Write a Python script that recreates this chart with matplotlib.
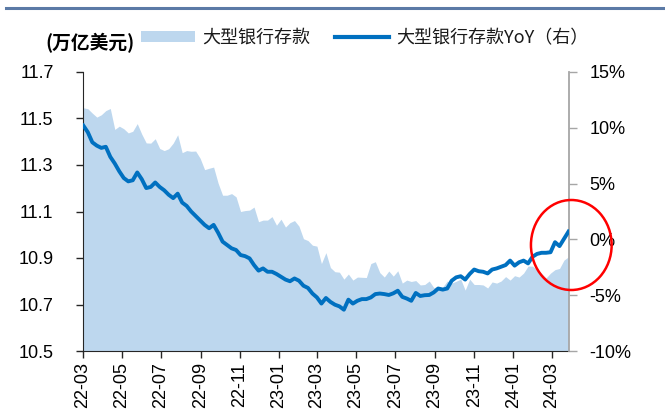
import matplotlib
matplotlib.use("Agg")
import matplotlib.pyplot as plt
import matplotlib.dates as mdates
from matplotlib.patches import Patch, Ellipse
from matplotlib.lines import Line2D
import pandas as pd

plt.rcParams['font.family'] = ['Liberation Sans', 'Noto Sans CJK SC', 'DejaVu Sans']

# weekly observations (Wednesdays), Mar 2022 - Mar 2024
dates = pd.date_range('2022-03-02', periods=109, freq='7D')

# Large bank deposits (trillion USD, left axis)
deposits = [
    11.546, 11.542, 11.523, 11.506, 11.516, 11.534, 11.543, 11.453, 11.467, 11.456,
    11.438, 11.445, 11.478, 11.433, 11.395, 11.394, 11.413, 11.371, 11.362, 11.370,
    11.394, 11.430, 11.353, 11.362, 11.359, 11.360, 11.329, 11.280, 11.286, 11.291,
    11.222, 11.170, 11.170, 11.177, 11.163, 11.100, 11.104, 11.106, 11.119, 11.056,
    11.063, 11.063, 11.078, 11.041, 11.067, 11.033, 11.052, 11.061, 11.037, 10.983,
    10.975, 10.955, 10.951, 10.876, 10.923, 10.859, 10.841, 10.839, 10.809, 10.831,
    10.805, 10.818, 10.817, 10.816, 10.876, 10.884, 10.837, 10.818, 10.844, 10.822,
    10.845, 10.792, 10.805, 10.799, 10.803, 10.784, 10.786, 10.801, 10.773, 10.777,
    10.775, 10.801, 10.792, 10.800, 10.809, 10.762, 10.809, 10.786, 10.786, 10.784,
    10.771, 10.797, 10.792, 10.801, 10.820, 10.805, 10.824, 10.818, 10.835, 10.865,
    10.865, 10.848, 10.834, 10.814, 10.835, 10.850, 10.855, 10.891, 10.905,
]

# Large bank deposits YoY (%, right axis)
yoy = [
    10.2, 9.6, 8.7, 8.4, 8.2, 8.3, 7.4, 6.8, 6.1, 5.5,
    5.2, 5.3, 6.0, 5.4, 4.6, 4.7, 5.1, 4.7, 4.4, 4.0,
    3.7, 4.1, 3.3, 3.0, 2.5, 2.1, 1.7, 1.3, 1.0, 1.3,
    0.6, -0.2, -0.5, -0.8, -0.95, -1.4, -1.5, -1.7, -2.3, -2.8,
    -2.6, -2.9, -2.9, -3.1, -3.35, -3.6, -3.75, -3.5, -3.7, -4.15,
    -4.35, -4.85, -5.2, -5.75, -5.25, -5.6, -5.85, -6.0, -6.3, -5.4,
    -5.75, -5.5, -5.35, -5.35, -5.2, -4.9, -4.85, -4.9, -4.98, -4.83,
    -4.6, -5.15, -5.3, -5.5, -4.8, -5.07, -5.0, -4.98, -4.75, -4.4,
    -4.5, -4.4, -3.7, -3.4, -3.3, -3.6, -3.1, -2.7, -2.85, -2.9,
    -3.05, -2.7, -2.6, -2.45, -2.3, -1.9, -2.35, -2.05, -1.9, -2.15,
    -1.55, -1.3, -1.2, -1.2, -1.15, -0.25, -0.6, 0.05, 0.7,
]

left_ticks = [10.5, 10.7, 10.9, 11.1, 11.3, 11.5, 11.7]
right_ticks = [-10, -5, 0, 5, 10, 15]
unit_label = '(万亿美元)'
area_label = '大型银行存款'
line_label = '大型银行存款YoY（右）'

FILL = '#BDD7EE'
LINE = '#0070C0'
W, H = 665, 418

fig = plt.figure(figsize=(W / 100, H / 100), dpi=100)
ax = fig.add_axes([82.7 / W, 1 - 351 / H, (568.5 - 82.7) / W, (351 - 72) / H])
ax2 = ax.twinx()

ax.fill_between(dates, left_ticks[0], deposits, color=FILL, linewidth=0, zorder=1)
ax2.plot(dates, yoy, color=LINE, linewidth=2.8, solid_joinstyle='round', zorder=3)

ax.set_ylim(left_ticks[0], left_ticks[-1])
ax.set_yticks(left_ticks)
ax.set_yticklabels([f'{v:.1f}' for v in left_ticks])
ax2.set_ylim(right_ticks[0], right_ticks[-1])
ax2.set_yticks(right_ticks)
ax2.set_yticklabels([f'{v}%' for v in right_ticks])

ax.set_xlim(dates[0] - pd.Timedelta(days=1), dates[-1])
ax.xaxis.set_major_locator(mdates.MonthLocator(bymonth=[1, 3, 5, 7, 9, 11]))
ax.xaxis.set_major_formatter(mdates.DateFormatter('%y-%m'))
for lab in ax.get_xticklabels():
    lab.set_rotation(90)

for a in (ax, ax2):
    a.spines['top'].set_visible(False)
    a.set_facecolor('none')
ax.spines['right'].set_visible(False)
ax2.spines['left'].set_visible(False)
ax2.spines['bottom'].set_visible(False)
ax.spines['left'].set_color('#262626')
ax.spines['bottom'].set_color('#262626')
ax2.spines['right'].set_color('#A6A6A6')
ax2.spines['right'].set_linewidth(1.3)

ax.tick_params(axis='y', direction='out', length=5, width=1, color='#262626',
               labelsize=13, pad=16)
ax.tick_params(axis='x', direction='out', length=5, width=1, color='#262626',
               labelsize=13, pad=3)
ax2.tick_params(axis='y', direction='out', length=6, width=1, color='#A6A6A6',
                labelsize=13, pad=9)

# legend
handles = [Patch(facecolor=FILL, edgecolor='none', label=area_label),
           Line2D([], [], color=LINE, linewidth=3, label=line_label)]
leg = fig.legend(handles=handles, loc='center left', bbox_to_anchor=(141 / W, 1 - 38 / H),
                 ncol=2, frameon=False, borderpad=0, borderaxespad=0,
                 handlelength=3.0, handleheight=0.6, handletextpad=0.4, columnspacing=1.35,
                 prop={'family': ['Noto Sans CJK SC', 'DejaVu Sans'], 'size': 13})
for t in leg.get_texts():
    t.set_color('#1a1a1a')

fig.text(45 / W, 1 - 43 / H, unit_label, ha='left', va='center', fontsize=13.5,
         fontweight='bold', family=['Noto Sans CJK SC', 'DejaVu Sans'])

# header rule
fig.add_artist(Line2D([6 / W, 1], [1 - 7.5 / H, 1 - 7.5 / H], transform=fig.transFigure,
                      color='#5B7AA6', linewidth=2.2))

# red highlight ellipse
fig.add_artist(Ellipse((571.3 / W, 1 - 245 / H), 80.7 / W, 90 / H, transform=fig.transFigure,
                       fill=False, edgecolor='#FF0000', linewidth=1.8, zorder=10))

fig.savefig('out.png', dpi=100)
